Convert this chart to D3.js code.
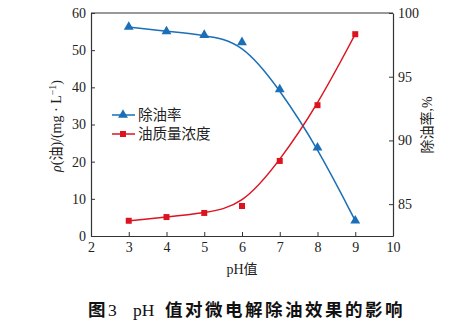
<!DOCTYPE html>
<html><head><meta charset="utf-8">
<script src="https://cdn.jsdelivr.net/npm/d3@7"></script>
<style>body{margin:0;background:#fff}</style>
</head><body><svg id="c" width="463" height="325"></svg>
<script>
const pH = [3,4,5,6,7,8,9];
const removalRate = [98.9,98.56,98.27,97.7,94.0,89.43,83.7];
const oilConc = [4.1,5.1,6.2,8.07,20.2,35.2,54.3];
const xTicks = [2,3,4,5,6,7,8,9,10];
const yLeftTicks = [0,10,20,30,40,50,60];
const yRightTicks = [85,90,95,100];
const seriesNames = ["除油率","油质量浓度"];

const svg = d3.select("#c");
const L=91,R=393,T=13,B=236;
const x = d3.scaleLinear().domain([2,10]).range([L,R]);
const yL = d3.scaleLinear().domain([0,60]).range([B,T]);
const yR = d3.scaleLinear().domain([82.5,100]).range([B,T]);
const blue="#1b6fb7", red="#dc1420";
const serif="'Liberation Serif','DejaVu Serif',serif";
const cjk="'Noto Sans CJK SC',sans-serif";

// frame top
svg.append("line").attr("x1",L).attr("x2",R).attr("y1",T).attr("y2",T).attr("stroke","#777").attr("stroke-width",1.3);

function styleAxis(g){
  g.selectAll("path").attr("stroke","#333").attr("stroke-width",1.2);
  g.selectAll("line").attr("stroke","#333");
  g.selectAll("text").attr("font-family",serif).attr("font-size",14).attr("fill","#222");
}
const gx = svg.append("g").attr("transform",`translate(0,${B})`)
  .call(d3.axisBottom(x).tickValues(xTicks).tickSizeInner(-4).tickSizeOuter(0).tickPadding(6));
styleAxis(gx);
const gl = svg.append("g").attr("transform",`translate(${L},0)`)
  .call(d3.axisLeft(yL).tickValues(yLeftTicks).tickSizeInner(-4).tickSizeOuter(0).tickPadding(5));
styleAxis(gl);
const gr = svg.append("g").attr("transform",`translate(${R},0)`)
  .call(d3.axisRight(yR).tickValues(yRightTicks).tickSizeInner(-4).tickSizeOuter(0).tickPadding(5));
styleAxis(gr);

// curves
const lineB = d3.line().curve(d3.curveBasis).x((d,i)=>x(pH[i])).y(d=>yR(d));
const lineR = d3.line().curve(d3.curveBasis).x((d,i)=>x(pH[i])).y(d=>yL(d));
svg.append("path").attr("d",lineB(removalRate)).attr("fill","none").attr("stroke",blue).attr("stroke-width",1.5);
svg.append("path").attr("d",lineR(oilConc)).attr("fill","none").attr("stroke",red).attr("stroke-width",1.5);

const tri = d3.symbol().type(d3.symbolTriangle).size(42);
const sq = d3.symbol().type(d3.symbolSquare).size(36);
svg.selectAll(".tb").data(removalRate).join("path").attr("d",tri)
  .attr("transform",(d,i)=>`translate(${x(pH[i])},${yR(d)})`).attr("fill",blue);
svg.selectAll(".sr").data(oilConc).join("path").attr("d",sq)
  .attr("transform",(d,i)=>`translate(${x(pH[i])},${yL(d)})`).attr("fill",red);

// legend
const lg = svg.append("g");
[[blue,tri,115],[red,sq,134]].forEach((s,i)=>{
  lg.append("line").attr("x1",112).attr("x2",135).attr("y1",s[2]).attr("y2",s[2]).attr("stroke",s[0]).attr("stroke-width",1.5);
  lg.append("path").attr("d",s[1]).attr("transform",`translate(123,${s[2]})`).attr("fill",s[0]);
  lg.append("text").attr("x",138).attr("y",s[2]+5).attr("font-family",cjk).attr("font-size",14.5).attr("fill","#222").text(seriesNames[i]);
});

// axis titles
svg.append("text").attr("x",242).attr("y",274).attr("text-anchor","middle").attr("font-size",14).attr("fill","#222")
  .html(`<tspan font-family="${serif}">pH</tspan><tspan font-family="${cjk}">值</tspan>`);
const lt = svg.append("text").attr("transform","translate(61,126) rotate(-90)").attr("text-anchor","middle").attr("font-size",14).attr("fill","#222").attr("font-family",serif);
lt.append("tspan").attr("font-style","italic").text("ρ");
lt.append("tspan").text("(");
lt.append("tspan").attr("font-family",cjk).text("油");
lt.append("tspan").text(")/(mg · L");
lt.append("tspan").attr("font-size",10).attr("dy",-5).text("−1");
lt.append("tspan").attr("dy",5).text(")");
const rt = svg.append("text").attr("transform","translate(432,125) rotate(-90)").attr("text-anchor","middle").attr("font-size",14).attr("fill","#222");
rt.append("tspan").attr("font-family",cjk).text("除油率");
rt.append("tspan").attr("font-family",serif).text(",%");

// caption
const cap = svg.append("text").attr("y",316).attr("font-size",17.5).attr("fill","#111");
cap.append("tspan").attr("x",88).attr("font-family",cjk).attr("font-weight","bold").text("图");
cap.append("tspan").attr("x",108).attr("font-family",serif).text("3");
cap.append("tspan").attr("x",133).attr("font-family",serif).text("pH");
cap.append("tspan").attr("x",165).attr("font-family",cjk).attr("font-weight","bold").attr("letter-spacing",2.5).text("值对微电解除油效果的影响");
</script></body></html>
